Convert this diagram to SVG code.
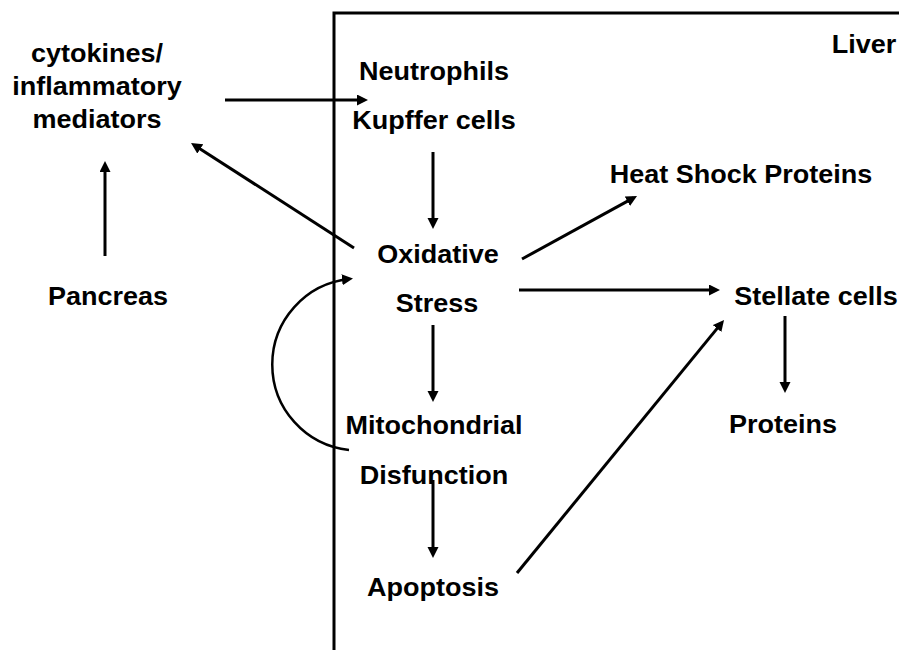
<svg xmlns="http://www.w3.org/2000/svg" width="899" height="650" viewBox="0 0 899 650">
<style>
text{font-family:"Liberation Sans",Arial,sans-serif;font-weight:bold;font-size:25px;fill:#000;text-anchor:middle}
.c{fill:none;stroke:#000;stroke-width:3}
.f{fill:none;stroke:#000;stroke-width:3}
</style>
<defs>
<marker id="ah" markerUnits="userSpaceOnUse" markerWidth="14" markerHeight="12" refX="7" refY="5.5" orient="auto">
<path d="M0,0 L11,5.5 L0,11 z" fill="#000"/>
</marker>
</defs>
<g id="liver-frame">
<path class="f" d="M334,650 V13 H899"/>
<text transform="translate(864,53) scale(1.08,1)">Liver</text>
</g>
<g id="cytokines">
<text transform="translate(97,62) scale(1.08,1)">cytokines/</text>
<text transform="translate(97,95) scale(1.08,1)">inflammatory</text>
<text transform="translate(97,128) scale(1.08,1)">mediators</text>
</g>
<g id="pancreas"><text transform="translate(108,305) scale(1.08,1)">Pancreas</text></g>
<g id="neutrophils-kupffer">
<text transform="translate(434,80) scale(1.08,1)">Neutrophils</text>
<text transform="translate(434,129) scale(1.08,1)">Kupffer cells</text>
</g>
<g id="oxidative-stress">
<text transform="translate(438,263) scale(1.08,1)">Oxidative</text>
<text transform="translate(437,312) scale(1.08,1)">Stress</text>
</g>
<g id="heat-shock"><text transform="translate(741,183) scale(1.08,1)">Heat Shock Proteins</text></g>
<g id="stellate"><text transform="translate(816,305) scale(1.08,1)">Stellate cells</text></g>
<g id="proteins"><text transform="translate(783,433) scale(1.08,1)">Proteins</text></g>
<g id="mitochondrial">
<text transform="translate(434,434) scale(1.08,1)">Mitochondrial</text>
<text transform="translate(434,484) scale(1.08,1)">Disfunction</text>
</g>
<g id="apoptosis"><text transform="translate(433,596) scale(1.08,1)">Apoptosis</text></g>
<g id="connectors" marker-end="url(#ah)">
<path class="c" d="M225,100 L364,100"/>
<path class="c" d="M105,256 L105,165"/>
<path class="c" d="M354,248 L194.4,145.2"/>
<path class="c" d="M433,152 L433,225"/>
<path class="c" d="M522,259 L633.5,197.9"/>
<path class="c" d="M519,290 L716,290"/>
<path class="c" d="M785,316 L785,389"/>
<path class="c" d="M517,573 L721.5,323.1"/>
<path class="c" d="M433,325 L433,398"/>
<path class="c" d="M433,480 L433,554"/>
<path class="c" style="stroke-width:2.5" d="M349,450 A86,86 0 0 1 349,279"/>
</g>
</svg>
